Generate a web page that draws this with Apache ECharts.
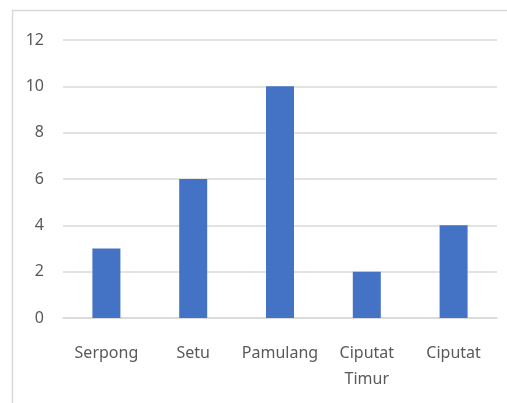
<!DOCTYPE html>
<html>
<head>
<meta charset="utf-8">
<script src="https://cdn.jsdelivr.net/npm/echarts@6/dist/echarts.min.js"></script>
<style>
  html, body { margin: 0; padding: 0; background: #fff; }
  #chart { width: 507px; height: 403px; }
</style>
</head>
<body>
<div id="chart"></div>
<script>
// data
const categories = ['Serpong', 'Setu', 'Pamulang', 'Ciputat\nTimur', 'Ciputat'];
const values = [3, 6, 10, 2, 4];
const yTicks = { min: 0, max: 12, interval: 2 };

const chart = echarts.init(document.getElementById('chart'));
const labelFont = 'Noto Sans';

const option = {
  animation: false,
  graphic: [{
    type: 'rect',
    shape: { x: 12.5, y: 10.5, width: 700, height: 700 },
    style: { fill: 'none', stroke: '#d9d9d9', lineWidth: 1.5 },
    silent: true
  }],
  grid: { left: 63, right: 10, top: 40, bottom: 85 },
  xAxis: {
    type: 'category',
    data: categories,
    axisLine: { lineStyle: { color: '#d9d9d9', width: 1.5 } },
    axisTick: { show: false },
    axisLabel: {
      interval: 0,
      color: '#595959',
      fontFamily: labelFont,
      fontSize: 16,
      lineHeight: 26,
      margin: 22
    }
  },
  yAxis: {
    type: 'value',
    min: yTicks.min,
    max: yTicks.max,
    interval: yTicks.interval,
    axisLine: { show: false },
    axisTick: { show: false },
    splitLine: { lineStyle: { color: '#d9d9d9', width: 1.5 } },
    axisLabel: {
      color: '#595959',
      fontFamily: labelFont,
      fontSize: 16,
      margin: 19
    }
  },
  series: [{
    type: 'bar',
    data: values,
    barWidth: 28,
    itemStyle: { color: '#4472c4' }
  }]
};
chart.setOption(option);
</script>
</body>
</html>
